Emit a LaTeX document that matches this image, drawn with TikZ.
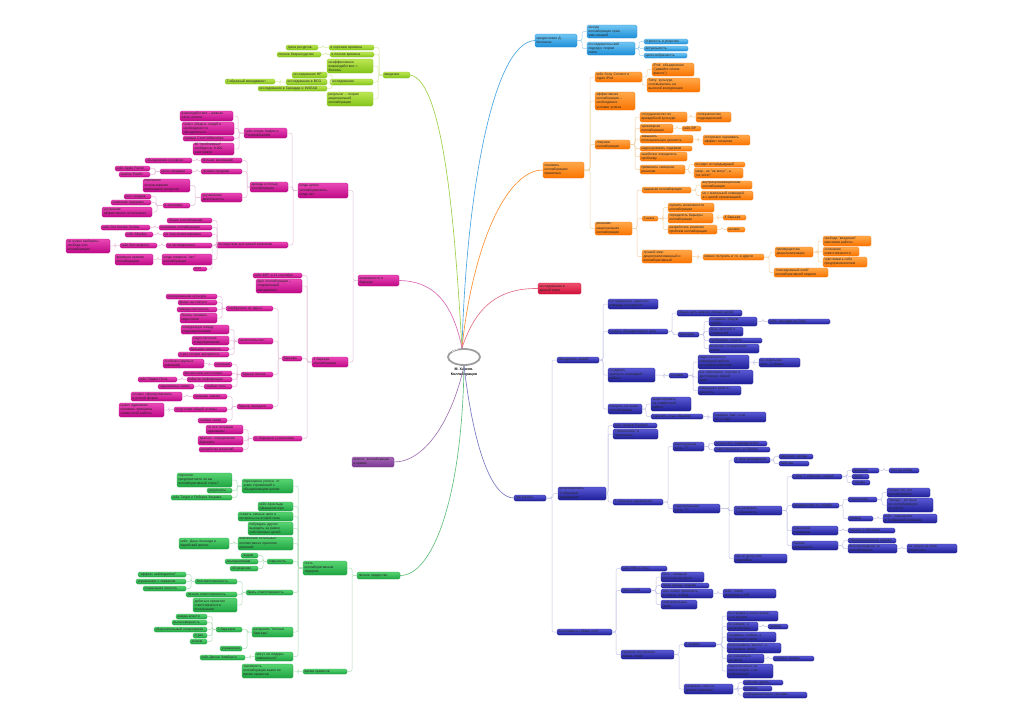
\documentclass[tikz,border=0pt]{standalone}
\usepackage{fontspec}
\setmainfont{Liberation Sans}
\usepackage{xcolor}
\usepackage{tikz}

\definecolor{limeT}{HTML}{BCE652}\definecolor{limeB}{HTML}{84C41A}\definecolor{limeL}{HTML}{D8EBA6}
\definecolor{skyT}{HTML}{72C6F2}\definecolor{skyB}{HTML}{1C8ED8}\definecolor{skyL}{HTML}{9ECFEE}
\definecolor{orT}{HTML}{FFA84A}\definecolor{orB}{HTML}{FB7400}\definecolor{orL}{HTML}{F2D2A6}
\definecolor{redT}{HTML}{F0506E}\definecolor{redB}{HTML}{CE1038}
\definecolor{mgT}{HTML}{EA48B6}\definecolor{mgB}{HTML}{BE0886}\definecolor{mgL}{HTML}{E4BEDA}
\definecolor{puT}{HTML}{A868B8}\definecolor{puB}{HTML}{783890}
\definecolor{grT}{HTML}{58D472}\definecolor{grB}{HTML}{1EA442}\definecolor{grL}{HTML}{B4DEBC}
\definecolor{nvT}{HTML}{5A5AD6}\definecolor{nvB}{HTML}{1E1E96}\definecolor{nvL}{HTML}{C6C6E6}

\tikzset{
  box/.style={rounded corners=1.4pt, inner xsep=1.5pt, inner ysep=0.3pt, outer sep=0pt,
    align=left, text=black!85, font=\fontsize{3.4}{4.1}\selectfont},
  lime/.style={top color=limeT, bottom color=limeB, draw=limeB, line width=0.2pt},
  sky/.style={top color=skyT, bottom color=skyB, draw=skyB, line width=0.2pt},
  orng/.style={top color=orT, bottom color=orB, draw=orB, line width=0.2pt},
  crim/.style={top color=redT, bottom color=redB, draw=redB, line width=0.2pt},
  mag/.style={top color=mgT, bottom color=mgB, draw=mgB, line width=0.2pt},
  purp/.style={top color=puT, bottom color=puB, draw=puB, line width=0.2pt},
  grn/.style={top color=grT, bottom color=grB, draw=grB, line width=0.2pt},
  navy/.style={top color=nvT, bottom color=nvB, draw=nvB, line width=0.2pt},
  tie/.style={draw=gray!30, line width=0.5pt, rounded corners=2pt},
  trunk/.style={line width=0.65pt},
}

% box from (x1,y1) to (x2,y2), in pixels of the page
\newcommand\bx[7]{%
  \pgfmathsetmacro\mmw{#5-#3}%
  \pgfmathsetmacro\mmh{#6-#4}%
  \pgfmathsetmacro\mmt{#5-#3-3}%
  \node[box,#2,minimum width=\mmw pt,minimum height=\mmh pt,text width=\mmt pt]
    (#1) at ({(#3+#5)/2},{(#4+#6)/2}) {#7};}
\newcommand\toR[2]{\draw[tie] (#1.east) -| ([xshift=-5pt]#2.west) -- (#2.west);}
\newcommand\toL[2]{\draw[tie] (#1.west) -| ([xshift=5pt]#2.east) -- (#2.east);}

\begin{document}
\begin{tikzpicture}[x=1pt,y=-1pt]
  \useasboundingbox[fill=white] (0,0) rectangle (1023,723);
  %
  \draw[gray!75,line width=1.8pt] (464,357) ellipse (16 and 8);
  \draw[white,line width=0.5pt] (452,352) arc (200:250:10 and 5);
  \node[font=\fontsize{3.6}{4.3}\selectfont\bfseries,align=center] (title) at (464,372)
    {М. Хансен.\\Коллаборация};
  \coordinate (ctrUp) at (462,348);
  \coordinate (ctrDn) at (464,366);
  %
  % введение
  \bx{intro}{lime}{383}{72}{410}{78}{введение}
  \bx{inGood}{lime}{329}{45}{374}{50}{в хорошие времена}
  \bx{inWaste}{lime}{286}{45}{318}{50}{трата ресурсов}
  \bx{inBad}{lime}{330}{52}{374}{57}{в плохие времена}
  \bx{inReck}{lime}{277}{52}{321}{57}{полное безрассудство}
  \bx{inIll}{lime}{327}{59}{373}{73}{неэффективное\\взаимодействие =\\болезнь}
  \bx{inRes}{lime}{330}{79}{373}{85}{исследования}
  \bx{inHP}{lime}{292}{72}{327}{78}{исследования HP}
  \bx{inBCG}{lime}{286}{79}{327}{85}{исследования в BCG}
  \bx{inHarv}{lime}{258}{86}{327}{91}{исследования в Гарварде и INSEAD}
  \bx{inT}{lime}{225}{79}{275}{84}{T-образный менеджмент}
  \bx{inRat}{lime}{327}{92}{373}{106}{результат -- теория\\рациональной\\коллаборации}
  \begin{scope}[tie/.style={draw=limeL,line width=0.5pt,rounded corners=2pt}]
    \toL{intro}{inGood} \toL{intro}{inBad} \toL{intro}{inIll} \toL{intro}{inRes} \toL{intro}{inRat}
    \toL{inGood}{inWaste} \toL{inBad}{inReck}
    \toL{inRes}{inHP} \toL{inRes}{inBCG} \toL{inRes}{inHarv} \toL{inBCG}{inT}
  \end{scope}
  \draw[trunk,draw=limeB!80] (ctrUp) .. controls (456,250) and (446,80) .. (intro.east);
  %
  % предисловие
  \bx{pref}{sky}{535}{34}{577}{47}{предисловие Д.\\Коллинза}
  \bx{prWorse}{sky}{587}{25}{637}{38}{иногда\\коллаборация хуже,\\чем никакой}
  \bx{prApp}{sky}{587}{42}{635}{55}{исследовательский\\подход к теории\\книги}
  \bx{prRig}{sky}{644}{39}{688}{44}{строгость и упорство}
  \bx{prRel}{sky}{644}{46}{688}{51}{актуальность}
  \bx{prUse}{sky}{644}{53}{687}{58}{целесообразность}
  \begin{scope}[tie/.style={draw=skyL,line width=0.5pt,rounded corners=2pt}]
    \toR{pref}{prWorse} \toR{pref}{prApp}
    \toR{prApp}{prRig} \toR{prApp}{prRel} \toR{prApp}{prUse}
  \end{scope}
  \draw[trunk,draw=skyB!80] (ctrUp) .. controls (466,200) and (492,42) .. (pref.west);
  %
  % понимать коллаборацию правильно
  \bx{und}{orng}{543}{162}{584}{178}{понимать\\коллаборацию\\правильно}
  \bx{orSony}{orng}{595}{72}{642}{82}{кейс Sony Connect и\\Apple iPod}
  \bx{orIpod}{orng}{652}{63}{694}{76}{iPod: объединение\\("давайте споем\\вместе")}
  \bx{orSonyC}{orng}{647}{78}{700}{92}{Sony: культура\\основывалась на\\высокой конкуренции}
  \bx{orEff}{orng}{595}{92}{635}{110}{эффективная\\коллаборация --\\необходимое\\условие успеха}
  \bx{orTrap}{orng}{595}{140}{630}{149}{ловушки\\коллаборации}
  \bx{orHost}{orng}{640}{112}{687}{122}{сотрудничество во\\враждебной культуре}
  \bx{orRiv}{orng}{696}{112}{731}{122}{соперничество\\подразделений}
  \bx{orOver}{orng}{640}{124}{673}{133}{чрезмерная\\коллаборация}
  \bx{orBP}{orng}{682}{126}{701}{131}{кейс BP}
  \bx{orValue}{orng}{640}{135}{693}{143}{завышать\\потенциальную ценность}
  \bx{orSyn}{orng}{703}{135}{750}{145}{осторожно оценивать\\эффект синергии}
  \bx{orCost}{orng}{640}{146}{692}{151}{недооценивать издержки}
  \bx{orProb}{orng}{640}{152}{687}{161}{ошибочно определить\\проблему}
  \bx{orWrong}{orng}{640}{165}{685}{174}{применить неверное\\решение}
  \bx{orPrev}{orng}{694}{162}{745}{167}{исходит из предыдущей}
  \bx{orWant}{orng}{694}{168}{743}{178}{напр., не "не могут", а\\"не хотят"}
  \bx{orSol}{orng}{595}{222}{632}{235}{решения:\\рациональная\\коллаборация}
  \bx{orGiven}{orng}{642}{187}{691}{193}{заданная коллаборация}
  \bx{orIntra}{orng}{701}{181}{752}{189}{внутриорганизационная\\коллаборация}
  \bx{orWhole}{orng}{701}{191}{753}{200}{не с маленькой командой,\\а с целой организацией}
  \bx{orSteps}{orng}{642}{216}{658}{221}{3 шага}
  \bx{orEval}{orng}{668}{203}{714}{212}{оценить возможности\\коллаборации}
  \bx{orBarr}{orng}{668}{213}{713}{223}{определить барьеры\\коллаборации}
  \bx{orFour}{orng}{723}{215}{746}{220}{4 барьера}
  \bx{orDev}{orng}{668}{225}{717}{234}{разработать решения\\проблем коллаборации}
  \bx{orLev}{orng}{727}{227}{745}{232}{рычаги}
  \bx{orBest}{orng}{642}{250}{692}{263}{лучший мир:\\децентрализованный и\\коллаборативный}
  \bx{orBoth}{orng}{703}{254}{764}{260}{можно получить и то, и другое}
  \bx{orDec}{orng}{775}{247}{813}{257}{преимущества\\децентрализации}
  \bx{orOwn}{orng}{823}{236}{871}{246}{свобода "владения"\\массивом работы}
  \bx{orResp}{orng}{823}{247}{859}{256}{осознание\\ответственности}
  \bx{orEnt}{orng}{823}{257}{867}{267}{чувствовать себя\\предпринимателем}
  \bx{orGlue}{orng}{774}{268}{828}{277}{"повседневный клей"\\коллаборативной модели}
  \begin{scope}[tie/.style={draw=orL,line width=0.5pt,rounded corners=2pt}]
    \toR{und}{orSony} \toR{und}{orEff} \toR{und}{orTrap} \toR{und}{orSol}
    \toR{orSony}{orIpod} \toR{orSony}{orSonyC}
    \toR{orTrap}{orHost} \toR{orTrap}{orOver} \toR{orTrap}{orValue}
    \toR{orTrap}{orCost} \toR{orTrap}{orProb} \toR{orTrap}{orWrong}
    \toR{orHost}{orRiv} \toR{orOver}{orBP} \toR{orValue}{orSyn}
    \toR{orWrong}{orPrev} \toR{orWrong}{orWant}
    \toR{orSol}{orGiven} \toR{orSol}{orSteps} \toR{orSol}{orBest}
    \toR{orGiven}{orIntra} \toR{orGiven}{orWhole}
    \toR{orSteps}{orEval} \toR{orSteps}{orBarr} \toR{orSteps}{orDev}
    \toR{orBarr}{orFour} \toR{orDev}{orLev}
    \toR{orBest}{orBoth} \toR{orBoth}{orDec} \toR{orBoth}{orGlue}
    \toR{orDec}{orOwn} \toR{orDec}{orResp} \toR{orDec}{orEnt}
  \end{scope}
  \draw[trunk,draw=orB!80] (ctrUp) .. controls (472,250) and (505,170) .. (und.west);
  %
  % исследования в данной книге
  \bx{resBook}{crim}{538}{283}{581}{294}{исследования в\\данной книге}
  \draw[trunk,draw=redB!60] (ctrUp) .. controls (476,305) and (500,288) .. (resBook.west);
  %
  % возможности и барьеры
  \bx{biz}{mag}{358}{275}{399}{286}{возможности и\\барьеры}
  \bx{whenC}{mag}{298}{183}{348}{198}{когда нужно\\коллаборировать,\\когда нет}
  \bx{mgPG}{mag}{244}{128}{287}{138}{кейс Алана Лафли и\\Procter\&Gamble}
  \bx{mgInter}{mag}{180}{111}{233}{121}{взаимодействие -- важная\\часть успеха}
  \bx{mgConv}{mag}{182}{122}{234}{135}{нужно убедить людей в\\необходимости\\объединиться}
  \bx{mgCrest}{mag}{183}{136}{234}{141}{пример Crest Whitestrips}
  \bx{mgForty}{mag}{193}{143}{234}{155}{40 "проблемных"\\сообществ, 8 000\\участников}
  \bx{mgPro}{mag}{250}{182}{288}{192}{доводы в пользу\\коллаборации}
  \bx{mgInno}{mag}{201}{158}{242}{163}{больше инноваций}
  \bx{mgPool}{mag}{145}{158}{192}{163}{объединение ресурсов}
  \bx{mgSales}{mag}{201}{169}{242}{174}{лучшие продажи}
  \bx{mgCross}{mag}{160}{169}{192}{174}{кросс-продажи}
  \bx{mgCaseA}{mag}{115}{166}{150}{171}{кейс Apple Ferrari}
  \bx{mgCaseJ}{mag}{119}{172}{150}{177}{Jardine Pacific}
  \bx{mgPerf}{mag}{201}{193}{242}{202}{улучшенная\\деятельность}
  \bx{mgReuse}{mag}{143}{179}{190}{192}{повторное\\использование\\имеющихся ресурсов}
  \bx{mgEcon}{mag}{163}{203}{190}{208}{в экономии}
  \bx{mgGrow}{mag}{124}{194}{151}{199}{рост продаж}
  \bx{mgCut}{mag}{111}{200}{151}{205}{снижение издержек}
  \bx{mgExec}{mag}{102}{207}{152}{217}{улучшение\\эффективного исполнения}
  \bx{mgImpl}{mag}{216}{242}{288}{248}{последствия для вашей компании}
  \bx{mgGen}{mag}{167}{218}{212}{223}{общая коллаборация}
  \bx{mgOverC}{mag}{159}{225}{212}{230}{излишняя коллаборация}
  \bx{mgOverK}{mag}{101}{225}{150}{230}{кейс Det Norske Veritas}
  \bx{mgNoP}{mag}{163}{232}{212}{237}{не персонализирована}
  \bx{mgNoPK}{mag}{125}{232}{153}{237}{кейс Alkydas}
  \bx{mgNoM}{mag}{166}{243}{212}{248}{не мотивирована}
  \bx{mgNoMK}{mag}{120}{243}{157}{248}{кейс Ваттенфолл}
  \bx{mgFree}{mag}{66}{239}{110}{253}{не нужно выбирать:\\свобода или\\коллаборация}
  \bx{mgNo}{mag}{162}{254}{212}{265}{когда говорить "нет"\\коллаборации}
  \bx{mgFormula}{mag}{115}{254}{153}{265}{формула премии\\коллаборации}
  \bx{mgTot}{mag}{193}{267}{207}{271}{итог}
  %
  \bx{barr}{mag}{312}{357}{348}{367}{4 барьера\\коллаборации}
  \bx{mgFBI}{mag}{253}{273}{302}{278}{кейс ФБР и 11 сентября}
  \bx{mgEnemy}{mag}{256}{279}{302}{293}{враг коллаборации --\\современный\\менеджмент}
  \bx{mgBar}{mag}{282}{356}{302}{361}{барьеры}
  \bx{mgNIH}{mag}{226}{306}{273}{311}{"изобретено не здесь"}
  \bx{mgIso}{mag}{166}{294}{217}{299}{изолированная культура}
  \bx{mgStat}{mag}{178}{300}{217}{305}{фокус на статусе}
  \bx{mgSelf}{mag}{177}{307}{217}{312}{самодостаточность}
  \bx{mgFear}{mag}{180}{313}{217}{323}{боязнь показать\\недостатки}
  \bx{mgHoard}{mag}{238}{338}{273}{344}{накопительство}
  \bx{mgComp}{mag}{181}{325}{229}{334}{конкуренция между\\подразделениями}
  \bx{mgInc}{mag}{192}{336}{229}{345}{недостаточное\\стимулирование}
  \bx{mgBusy}{mag}{189}{347}{229}{351}{большая занятость}
  \bx{mgPow}{mag}{178}{352}{229}{357}{страх потери авторитета}
  \bx{mgSearch}{mag}{241}{372}{273}{377}{барьер поиска}
  \bx{mgIsol}{mag}{214}{362}{232}{367}{изоляция}
  \bx{mgBridge}{mag}{163}{359}{204}{368}{особенно крупных\\компаний}
  \bx{mgDist}{mag}{183}{371}{232}{376}{физические расстояния}
  \bx{mgInfo}{mag}{187}{377}{232}{382}{избыток информации}
  \bx{mgInfoK}{mag}{138}{377}{177}{382}{кейс Пиджи Пола}
  \bx{mgWeak}{mag}{204}{384}{232}{389}{слабые сети}
  \bx{mgWeakK}{mag}{158}{384}{194}{389}{нарушенные связи}
  \bx{mgTrans}{mag}{237}{404}{273}{409}{барьер передачи}
  \bx{mgTacit}{mag}{193}{394}{227}{399}{неявные знания}
  \bx{mgTacitD}{mag}{131}{392}{182}{401}{сложно сформулировать\\в устной форме}
  \bx{mgCommon}{mag}{174}{407}{227}{412}{отсутствие общей основы}
  \bx{mgCommonD}{mag}{119}{403}{164}{417}{нужно одинаково\\понимать принципы\\совместной работы}
  \bx{mgWeakT}{mag}{198}{418}{227}{423}{слабые связи}
  \bx{mgSol}{mag}{253}{436}{302}{441}{от барьеров к решениям}
  \bx{mgSit}{mag}{206}{425}{243}{434}{не все ситуации\\одинаковы}
  \bx{mgDiag}{mag}{198}{436}{243}{445}{диагноз: определение\\барьеров}
  \bx{mgDevS}{mag}{199}{447}{243}{452}{разработка решений}
  \begin{scope}[tie/.style={draw=mgL,line width=0.5pt,rounded corners=2pt}]
    \toL{biz}{whenC} \toL{biz}{barr}
    \toL{whenC}{mgPG} \toL{whenC}{mgPro} \toL{whenC}{mgImpl}
    \toL{mgPG}{mgInter} \toL{mgPG}{mgConv} \toL{mgPG}{mgCrest} \toL{mgPG}{mgForty}
    \toL{mgPro}{mgInno} \toL{mgPro}{mgSales} \toL{mgPro}{mgPerf}
    \toL{mgInno}{mgPool} \toL{mgSales}{mgCross}
    \toL{mgCross}{mgCaseA} \toL{mgCross}{mgCaseJ}
    \toL{mgPerf}{mgReuse} \toL{mgPerf}{mgEcon}
    \toL{mgEcon}{mgGrow} \toL{mgEcon}{mgCut} \toL{mgEcon}{mgExec}
    \toL{mgImpl}{mgGen} \toL{mgImpl}{mgOverC} \toL{mgImpl}{mgNoP}
    \toL{mgImpl}{mgNoM} \toL{mgImpl}{mgNo} \toL{mgImpl}{mgTot}
    \toL{mgOverC}{mgOverK} \toL{mgNoP}{mgNoPK} \toL{mgNoM}{mgNoMK}
    \toL{mgNoMK}{mgFree} \toL{mgNo}{mgFormula}
    %
    \toL{barr}{mgFBI} \toL{barr}{mgEnemy} \toL{barr}{mgBar} \toL{barr}{mgSol}
    \toL{mgBar}{mgNIH} \toL{mgBar}{mgHoard} \toL{mgBar}{mgSearch} \toL{mgBar}{mgTrans}
    \toL{mgNIH}{mgIso} \toL{mgNIH}{mgStat} \toL{mgNIH}{mgSelf} \toL{mgNIH}{mgFear}
    \toL{mgHoard}{mgComp} \toL{mgHoard}{mgInc} \toL{mgHoard}{mgBusy} \toL{mgHoard}{mgPow}
    \toL{mgSearch}{mgIsol} \toL{mgSearch}{mgDist} \toL{mgSearch}{mgInfo} \toL{mgSearch}{mgWeak}
    \toL{mgIsol}{mgBridge} \toL{mgInfo}{mgInfoK} \toL{mgWeak}{mgWeakK}
    \toL{mgTrans}{mgTacit} \toL{mgTrans}{mgCommon} \toL{mgTrans}{mgWeakT}
    \toL{mgTacit}{mgTacitD} \toL{mgCommon}{mgCommonD}
    \toL{mgSol}{mgSit} \toL{mgSol}{mgDiag} \toL{mgSol}{mgDevS}
  \end{scope}
  \draw[trunk,draw=mgB!60] (ctrUp) .. controls (452,300) and (432,281) .. (biz.east);
  %
  % эпилог
  \bx{epi}{purp}{352}{457}{394}{467}{эпилог: коллаборация\\в кризис}
  \draw[trunk,draw=puB!70] (ctrDn) .. controls (452,420) and (425,462) .. (epi.east);
  %
  % лидерство
  \bx{lead}{grn}{357}{572}{400}{579}{личное лидерство}
  \bx{grBe}{grn}{303}{561}{347}{575}{стать\\коллаборативным\\лидером}
  \bx{grRedef}{grn}{242}{479}{293}{493}{переоценка успеха: от\\узких стремлений к\\объединяющим целям}
  \bx{grQuiz}{grn}{177}{473}{232}{487}{опросник:\\предпочитаете ли вы\\коллаборативный стиль?}
  \bx{grRes}{grn}{207}{488}{232}{493}{результаты}
  \bx{grTarget}{grn}{171}{495}{232}{500}{кейс Target и Роберта Ульриха}
  \bx{grArn}{grn}{258}{502}{293}{511}{кейс Арнольда\\Шварценеггера}
  \bx{grSub}{grn}{238}{512}{293}{521}{ставить личные цели и\\интересы на второй план}
  \bx{grBeyond}{grn}{248}{522}{293}{535}{побуждать других\\выходить за рамки\\собственных целей}
  \bx{grInv}{grn}{238}{537}{293}{550}{вовлечение остальных:\\коллективное принятие\\решений}
  \bx{grJFK}{grn}{179}{538}{229}{549}{кейс: Джон Кеннеди и\\Карибский кризис}
  \bx{grOpen}{grn}{267}{559}{293}{564}{открытость}
  \bx{grPeople}{grn}{241}{553}{258}{558}{людям}
  \bx{grAlt}{grn}{225}{559}{258}{564}{альтернативам}
  \bx{grDisc}{grn}{230}{566}{258}{571}{обсуждению}
  \bx{grAcc}{grn}{246}{590}{293}{595}{брать ответственность}
  \bx{grIrr}{grn}{195}{579}{237}{584}{безответственность}
  \bx{grBys}{grn}{138}{572}{186}{577}{"эффект наблюдателя"}
  \bx{grMirror}{grn}{136}{579}{186}{584}{упражнение с зеркалом}
  \bx{grLoaf}{grn}{143}{586}{186}{591}{социальная леность}
  \bx{grPers}{grn}{186}{592}{237}{597}{личная ответственность}
  \bx{grOthers}{grn}{193}{598}{237}{612}{добиться принятия\\ответственности\\остальными}
  \bx{grBarr}{grn}{252}{627}{293}{637}{разрушать "личные\\барьеры"}
  \bx{grFive}{grn}{216}{627}{242}{632}{5 барьеров}
  \bx{grPow}{grn}{176}{614}{207}{619}{жажда власти}
  \bx{grArr}{grn}{172}{620}{207}{625}{высокомерность}
  \bx{grDef}{grn}{154}{627}{207}{632}{оборонительный эгоцентризм}
  \bx{grFear}{grn}{193}{633}{207}{638}{страх}
  \bx{grEgo}{grn}{190}{639}{207}{644}{эгоизм}
  \bx{grShor}{grn}{220}{646}{242}{651}{упражнение}
  \bx{grCan}{grn}{255}{652}{293}{661}{могут ли лидеры\\измениться?}
  \bx{grCham}{grn}{200}{655}{245}{660}{кейс Джона Чемберса}
  \bx{grCrisis}{grn}{303}{669}{347}{674}{время кризисов}
  \bx{grMore}{grn}{242}{664}{293}{678}{значимость\\коллаборации выше во\\время кризисов}
  \begin{scope}[tie/.style={draw=grL,line width=0.5pt,rounded corners=2pt}]
    \toL{lead}{grBe} \toL{lead}{grCrisis}
    \toL{grBe}{grRedef} \toL{grBe}{grArn} \toL{grBe}{grSub} \toL{grBe}{grBeyond}
    \toL{grBe}{grInv} \toL{grBe}{grOpen} \toL{grBe}{grAcc} \toL{grBe}{grBarr} \toL{grBe}{grCan}
    \toL{grRedef}{grQuiz} \toL{grRedef}{grRes} \toL{grRedef}{grTarget}
    \toL{grInv}{grJFK}
    \toL{grOpen}{grPeople} \toL{grOpen}{grAlt} \toL{grOpen}{grDisc}
    \toL{grAcc}{grIrr} \toL{grAcc}{grPers} \toL{grAcc}{grOthers}
    \toL{grIrr}{grBys} \toL{grIrr}{grMirror} \toL{grIrr}{grLoaf}
    \toL{grBarr}{grFive} \toL{grBarr}{grShor}
    \toL{grFive}{grPow} \toL{grFive}{grArr} \toL{grFive}{grDef} \toL{grFive}{grFear} \toL{grFive}{grEgo}
    \toL{grCan}{grCham} \toL{grCrisis}{grMore}
  \end{scope}
  \draw[trunk,draw=grB!70] (ctrDn) .. controls (462,500) and (432,576) .. (lead.east);
  %
  % три рычага
  \bx{sol}{navy}{514}{495}{546}{501}{три рычага}
  \bx{lvOne}{navy}{557}{357}{599}{363}{объединять людей}
  \bx{nvWest}{navy}{608}{299}{658}{309}{исследования: единство\\команды и результат}
  \bx{nvGoal}{navy}{608}{329}{668}{334}{создать объединяющую цель}
  \bx{nvGoalD}{navy}{677}{310}{742}{316}{общая цель важнее личных целей}
  \bx{nvCrit}{navy}{678}{332}{699}{337}{критерии}
  \bx{nvFate}{navy}{709}{317}{757}{326}{создавать общую\\судьбу}
  \bx{nvFateK}{navy}{768}{319}{830}{324}{кейс: высадка на Луну}
  \bx{nvSimple}{navy}{709}{327}{743}{336}{быть простой и\\конкретной}
  \bx{nvPass}{navy}{709}{338}{762}{343}{пробуждать страсть}
  \bx{nvOut}{navy}{709}{344}{759}{353}{выносить конкуренцию\\вовне}
  \bx{nvTeam}{navy}{608}{368}{655}{382}{создавать\\ценность командной\\работы}
  \bx{nvCond}{navy}{669}{373}{688}{378}{условия}
  \bx{nvCa}{navy}{698}{355}{749}{369}{недостаточность\\командной работы\\на уровне компании}
  \bx{nvCak}{navy}{759}{358}{800}{367}{не отдельная\\цель, а общая}
  \bx{nvCb}{navy}{698}{370}{753}{384}{все принимают участие в\\достижении общей\\цели}
  \bx{nvCc}{navy}{698}{386}{741}{395}{командная работа --\\ценность}
  \bx{nvLang}{navy}{608}{404}{642}{414}{говорить на языке\\коллаборации}
  \bx{nvLa}{navy}{651}{397}{691}{411}{акцентировать\\на совместной\\работе}
  \bx{nvLb}{navy}{651}{414}{703}{419}{изменить язык общения}
  \bx{nvLbk}{navy}{713}{412}{766}{422}{говорить "мы", а не\\"я" и "они"}
  %
  \bx{lvTwo}{navy}{558}{487}{606}{500}{культивировать\\Т-образный\\менеджмент}
  \bx{nvCase}{navy}{613}{423}{657}{428}{кейс Hewlett-Packard}
  \bx{nvQuote}{navy}{613}{429}{658}{439}{"горизонталь" и\\"вертикаль"}
  \bx{nvHow}{navy}{613}{499}{663}{505}{Т-образное управление}
  \bx{nvA}{navy}{673}{442}{704}{451}{вертикальная\\часть "Т"}
  \bx{nvAa}{navy}{714}{441}{767}{446}{результаты подразделения}
  \bx{nvAb}{navy}{714}{447}{770}{452}{ответственность за бизнес}
  \bx{nvB}{navy}{673}{504}{720}{513}{горизонтальная\\часть "Т"}
  \bx{nvBa}{navy}{734}{457}{770}{463}{4 типа менеджеров}
  \bx{nvBaa}{navy}{779}{454}{813}{459}{одинокие звезды}
  \bx{nvBab}{navy}{779}{461}{809}{466}{бабочки}
  \bx{nvBb}{navy}{734}{506}{782}{515}{как развивать\\Т-образность}
  \bx{nvBba}{navy}{792}{474}{842}{479}{отбор Т-образных людей}
  \bx{nvBbaa}{navy}{852}{468}{879}{473}{критерии}
  \bx{nvBbaax}{navy}{889}{468}{919}{473}{тест на отбор}
  \bx{nvBbab}{navy}{852}{474}{869}{479}{опрос}
  \bx{nvBbac}{navy}{852}{480}{870}{485}{отзывы}
  \bx{nvBbb}{navy}{792}{503}{839}{508}{продвижение по службе}
  \bx{nvBbba}{navy}{848}{497}{877}{502}{повышение}
  \bx{nvBbbax}{navy}{887}{488}{930}{497}{только тех, кто\\коллаборирует}
  \bx{nvBbbay}{navy}{887}{498}{933}{512}{"звезды", которые\\не коллаборируют,\\не растут}
  \bx{nvBbbb}{navy}{848}{516}{873}{521}{пример}
  \bx{nvBbbbx}{navy}{883}{514}{937}{523}{кейс: повышение\\в Т-образной компании}
  \bx{nvBbc}{navy}{792}{526}{838}{535}{изменение\\поведения}
  \bx{nvBbca}{navy}{848}{528}{895}{533}{коучинг и обучение}
  \bx{nvBbd}{navy}{792}{541}{838}{550}{оценка\\результатов}
  \bx{nvBbda}{navy}{848}{538}{896}{543}{сбалансированная оценка}
  \bx{nvBbdb}{navy}{848}{544}{897}{553}{вознаграждение за\\коллаборацию}
  \bx{nvBbdbx}{navy}{907}{544}{957}{553}{не только за свои\\результаты}
  \bx{nvBc}{navy}{734}{554}{787}{563}{как не допустить\\перегибов}
  %
  \bx{lvThree}{navy}{557}{629}{612}{635}{выстраивать гибкие сети}
  \bx{nvK}{navy}{621}{566}{667}{571}{кейс IBM и Linux}
  \bx{nvN}{navy}{621}{588}{651}{593}{сила сетей}
  \bx{nvNa}{navy}{661}{572}{704}{582}{сети -- мощный\\источник ресурсов}
  \bx{nvNb}{navy}{661}{583}{709}{588}{связи между людьми}
  \bx{nvNc}{navy}{661}{589}{713}{598}{сеть может приносить\\и пользу, и вред}
  \bx{nvNck}{navy}{723}{589}{776}{598}{кейс: поиск\\экспертов в HP}
  \bx{nvNd}{navy}{661}{600}{697}{609}{неформальные\\связи}
  \bx{nvM}{navy}{621}{650}{674}{659}{правила построения\\гибких сетей}
  \bx{nvR}{navy}{684}{642}{716}{647}{6 правил}
  \bx{nvRa}{navy}{727}{611}{778}{621}{выстраивать связи вовне,\\а не внутри}
  \bx{nvRb}{navy}{727}{622}{758}{631}{не размер, а\\разнообразие}
  \bx{nvRbk}{navy}{768}{624}{788}{629}{пример}
  \bx{nvRc}{navy}{727}{632}{776}{642}{создавать слабые, а\\не сильные связи}
  \bx{nvRd}{navy}{727}{643}{781}{653}{использовать "мосты", а\\не прямые связи}
  \bx{nvRe}{navy}{727}{654}{764}{663}{не полагаться\\на звезд}
  \bx{nvRek}{navy}{773}{656}{814}{661}{сетевые звезды}
  \bx{nvRf}{navy}{727}{664}{773}{678}{переключаться на\\поиск людей, а не\\информации}
  \bx{nvS}{navy}{684}{684}{733}{694}{развивать сети на\\уровне компании}
  \bx{nvSa}{navy}{743}{680}{783}{685}{рабочие группы}
  \bx{nvSb}{navy}{743}{686}{772}{691}{встречи}
  \bx{nvSc}{navy}{743}{692}{807}{698}{информационные системы}
  \begin{scope}[tie/.style={draw=nvL,line width=0.5pt,rounded corners=2pt}]
    \toR{sol}{lvOne} \toR{sol}{lvTwo} \toR{sol}{lvThree}
    \toR{lvOne}{nvWest} \toR{lvOne}{nvGoal} \toR{lvOne}{nvTeam} \toR{lvOne}{nvLang}
    \toR{nvGoal}{nvGoalD} \toR{nvGoal}{nvCrit}
    \toR{nvCrit}{nvFate} \toR{nvCrit}{nvSimple} \toR{nvCrit}{nvPass} \toR{nvCrit}{nvOut}
    \toR{nvFate}{nvFateK}
    \toR{nvTeam}{nvCond} \toR{nvCond}{nvCa} \toR{nvCond}{nvCb} \toR{nvCond}{nvCc}
    \toR{nvCa}{nvCak}
    \toR{nvLang}{nvLa} \toR{nvLang}{nvLb} \toR{nvLb}{nvLbk}
    %
    \toR{lvTwo}{nvCase} \toR{lvTwo}{nvQuote} \toR{lvTwo}{nvHow}
    \toR{nvHow}{nvA} \toR{nvHow}{nvB}
    \toR{nvA}{nvAa} \toR{nvA}{nvAb}
    \toR{nvB}{nvBa} \toR{nvB}{nvBb} \toR{nvB}{nvBc}
    \toR{nvBa}{nvBaa} \toR{nvBa}{nvBab}
    \toR{nvBb}{nvBba} \toR{nvBb}{nvBbb} \toR{nvBb}{nvBbc} \toR{nvBb}{nvBbd}
    \toR{nvBba}{nvBbaa} \toR{nvBba}{nvBbab} \toR{nvBba}{nvBbac} \toR{nvBbaa}{nvBbaax}
    \toR{nvBbb}{nvBbba} \toR{nvBbb}{nvBbbb}
    \toR{nvBbba}{nvBbbax} \toR{nvBbba}{nvBbbay} \toR{nvBbbb}{nvBbbbx}
    \toR{nvBbc}{nvBbca}
    \toR{nvBbd}{nvBbda} \toR{nvBbd}{nvBbdb} \toR{nvBbdb}{nvBbdbx}
    %
    \toR{lvThree}{nvK} \toR{lvThree}{nvN} \toR{lvThree}{nvM}
    \toR{nvN}{nvNa} \toR{nvN}{nvNb} \toR{nvN}{nvNc} \toR{nvN}{nvNd} \toR{nvNc}{nvNck}
    \toR{nvM}{nvR} \toR{nvM}{nvS}
    \toR{nvR}{nvRa} \toR{nvR}{nvRb} \toR{nvR}{nvRc} \toR{nvR}{nvRd} \toR{nvR}{nvRe} \toR{nvR}{nvRf}
    \toR{nvRb}{nvRbk} \toR{nvRe}{nvRek}
    \toR{nvS}{nvSa} \toR{nvS}{nvSb} \toR{nvS}{nvSc}
  \end{scope}
  \draw[trunk,draw=nvB!60] (ctrDn) .. controls (474,450) and (492,498) .. (sol.west);
\end{tikzpicture}
\end{document}
